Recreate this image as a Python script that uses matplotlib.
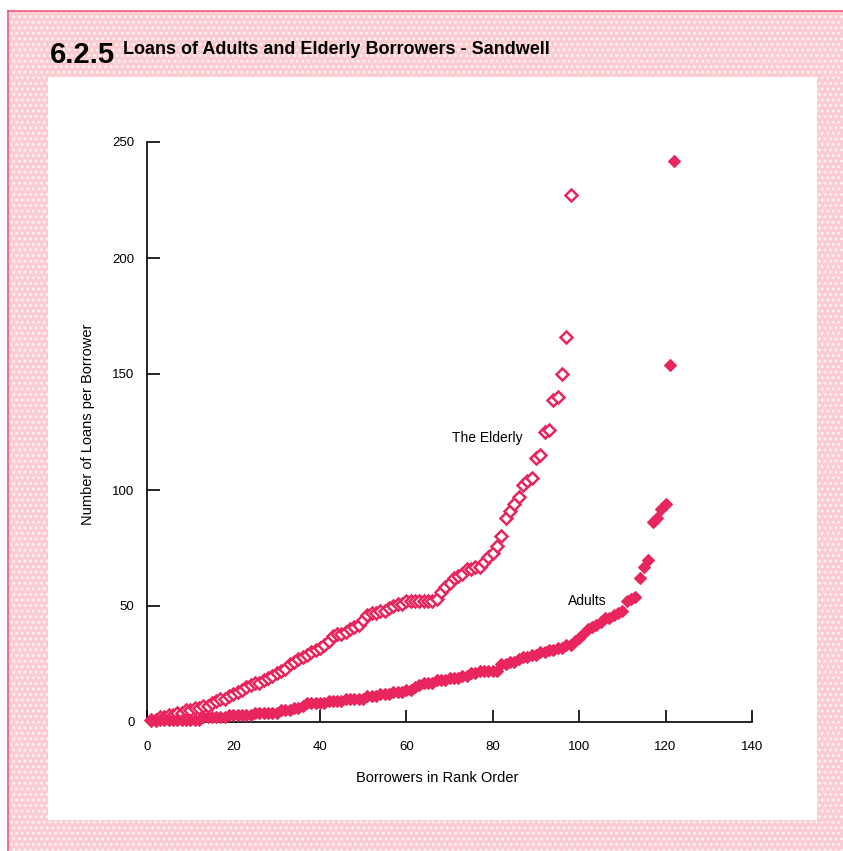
import matplotlib.pyplot as plt
from matplotlib.patches import Rectangle

# loans per borrower, sorted ascending (rank order)
elderly = [1, 1, 2, 2, 3, 3, 4, 4, 5, 5, 6, 6, 7, 7, 8, 9, 10, 10, 11, 12,
           13, 14, 15, 16, 17, 17, 18, 19, 20, 21, 22, 23, 25, 26, 27, 28, 29, 30, 31, 32,
           33, 35, 37, 38, 38, 39, 40, 41, 42, 44, 46, 47, 47, 48, 48, 49, 50, 51, 51, 52,
           52, 52, 52, 52, 52, 52, 53, 56, 58, 60, 62, 63, 64, 66, 66, 67, 67, 69, 71, 73,
           76, 80, 88, 91, 94, 97, 102, 104, 105, 114, 115, 125, 126, 139, 140, 150, 166, 227]
adults = [1, 1, 1, 1, 1, 1, 1, 1, 1, 1, 1, 1, 2, 2, 2, 2, 2, 2, 3, 3,
          3, 3, 3, 3, 4, 4, 4, 4, 4, 4, 5, 5, 5, 6, 6, 7, 8, 8, 8, 8,
          8, 9, 9, 9, 9, 10, 10, 10, 10, 10, 11, 11, 11, 12, 12, 12, 13, 13, 13, 14,
          14, 15, 16, 17, 17, 17, 18, 18, 18, 19, 19, 19, 20, 20, 21, 21, 22, 22, 22, 22,
          22, 25, 25, 26, 26, 27, 28, 28, 29, 29, 30, 30, 31, 31, 32, 32, 33, 33, 35, 36,
          38, 40, 41, 42, 43, 45, 45, 46, 47, 48, 52, 53, 54, 62, 67, 70, 86, 88, 92, 94,
          154, 242]
rankElderly = list(range(1, len(elderly) + 1))
rankAdults = list(range(1, len(adults) + 1))

xTicks = [0, 20, 40, 60, 80, 100, 120, 140]
yTicks = [0, 50, 100, 150, 200, 250]

pink = '#e8255c'
plt.rcParams['font.family'] = ['Liberation Sans', 'DejaVu Sans']
plt.rcParams['hatch.linewidth'] = 1.2

W, H = 843, 851
fig = plt.figure(figsize=(W / 100, H / 100), dpi=100)
fig.patch.set_facecolor('white')

# dotted pink page behind the white panel
page = Rectangle((8 / W, 0), 1 - 8 / W, 1 - 11 / H, transform=fig.transFigure,
                 facecolor='#fbcdd0', edgecolor='#fff4f4', hatch='...', lw=0, zorder=-3)
fig.patches.append(page)
fig.add_artist(plt.Line2D([8 / W, 8 / W], [0, 1 - 11 / H], color='#ee5a80', lw=1.2,
                          transform=fig.transFigure, zorder=-2))
fig.add_artist(plt.Line2D([8 / W, 1], [1 - 11 / H, 1 - 11 / H], color='#ee5a80', lw=1.2,
                          transform=fig.transFigure, zorder=-2))
panel = Rectangle((48 / W, 1 - 820 / H), (817 - 48) / W, (820 - 77) / H,
                  transform=fig.transFigure, facecolor='white', lw=0, zorder=-1)
fig.patches.append(panel)

fig.text(50 / W, 1 - 63 / H, '6.2.5', fontsize=21, fontweight='bold', va='baseline')
fig.text(123 / W, 1 - 54 / H, 'Loans of Adults and Elderly Borrowers - Sandwell',
         fontsize=13, fontweight='bold', va='baseline')

ax = fig.add_axes([147 / W, 1 - 722 / H, (752 - 147) / W, (722 - 142) / H])
ax.set_facecolor('none')

ax.plot(rankElderly, elderly, linestyle='none', marker='D', markersize=6.3,
        markerfacecolor='white', markeredgecolor=pink, markeredgewidth=1.8,
        clip_on=False, zorder=3)
ax.plot(rankAdults, adults, linestyle='none', marker='D', markersize=6.0,
        color=pink, markeredgewidth=0.8, clip_on=False, zorder=4)

ax.text(70.5, 122.4, 'The Elderly', fontsize=10, va='center')
ax.text(97.5, 52, 'Adults', fontsize=10, va='center')

ax.set_xlim(0, 140)
ax.set_ylim(0, 250)
ax.set_xticks(xTicks)
ax.set_yticks(yTicks)
for side in ['top', 'right']:
    ax.spines[side].set_visible(False)
for side in ['left', 'bottom']:
    ax.spines[side].set_linewidth(1.2)
ax.tick_params(axis='both', direction='in', length=9, width=1.2, labelsize=9.5)
ax.tick_params(axis='x', pad=14)
ax.tick_params(axis='y', pad=9)

ax.set_xlabel('Borrowers in Rank Order', fontsize=10.5)
ax.xaxis.set_label_coords((437 - 147) / 605, -49 / 580)
ax.set_ylabel('Number of Loans per Borrower', fontsize=10.5)
ax.yaxis.set_label_coords(-52 / 605, (722 - 424) / 580)

fig.savefig('out.png', dpi=100)
